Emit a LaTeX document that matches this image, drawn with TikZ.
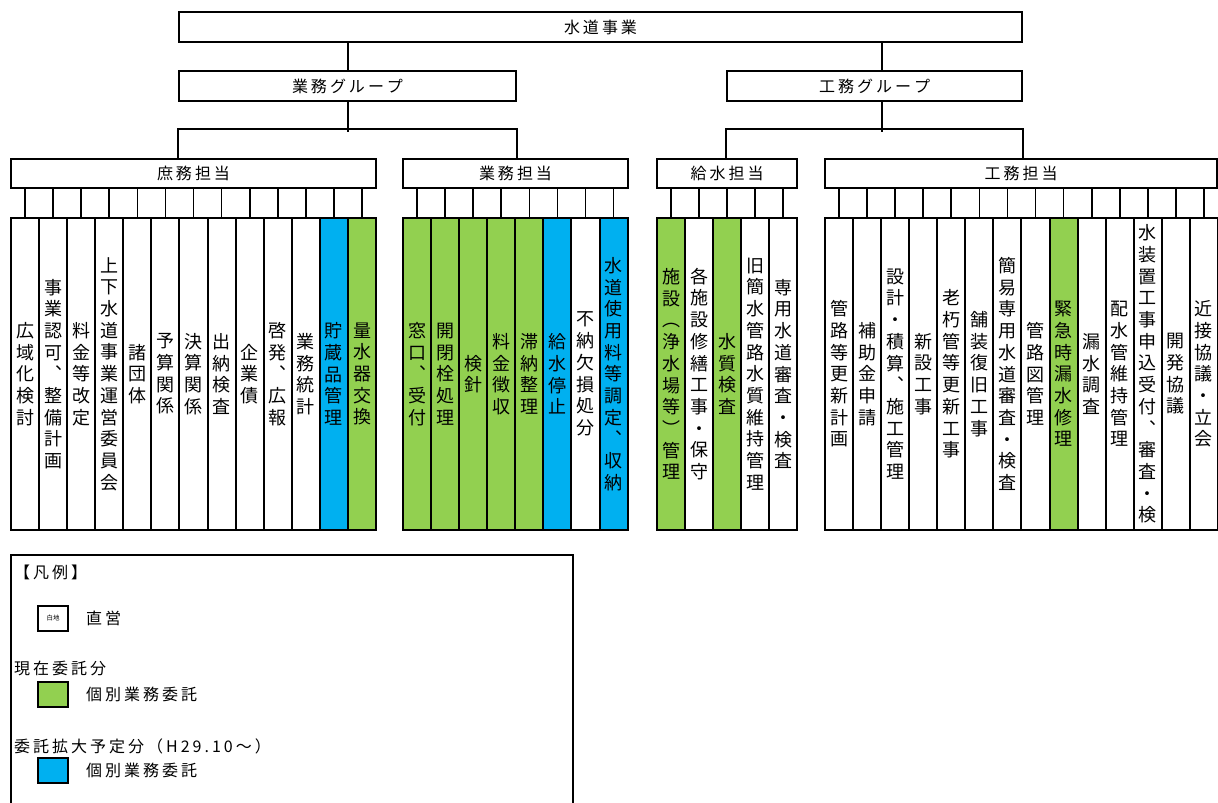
\documentclass[tikz,border=0pt]{standalone}
\usepackage{fontspec}
\setmainfont{Noto Sans CJK JP}
\newfontfamily\tatefont[RawFeature=+vert]{Noto Sans CJK JP}
\usetikzlibrary{positioning,calc}
\definecolor{itakugreen}{RGB}{146,208,80}
\definecolor{itakublue}{RGB}{0,176,240}
% pionowy tekst: jeden znak w wierszu
\def\tate#1{\tatefirst#1\relax}
\def\tatefirst#1{#1\tatenext}
\def\tatenext#1{\ifx#1\relax\else\\#1\expandafter\tatenext\fi}
% poziomy tekst z odstepami
\def\yoko#1{\yokofirst#1\relax}
\def\yokofirst#1{#1\yokonext}
\def\yokonext#1{\ifx#1\relax\else\kern3pt#1\expandafter\yokonext\fi}

\begin{document}
\begin{tikzpicture}[x=1pt,y=-1pt,line cap=rect,line join=miter,
  orgbox/.style={draw,line width=2.2pt,inner sep=0pt,font=\fontsize{16}{18}\selectfont},
  colbox/.style={draw,line width=2pt,inner sep=0pt,minimum width=28.08pt,
    minimum height=312pt,align=center,font=\tatefont\fontsize{18}{21.7}\selectfont},
  link/.style={line width=2pt},
  stub/.style={line width=1.7pt},
  legtext/.style={inner sep=0pt,font=\fontsize{16}{18}\selectfont},
  legkey/.style={draw,line width=2pt,inner sep=0pt,minimum width=30pt,minimum height=25pt}]
 \useasboundingbox (0,0) rectangle (1218,803);
 % Gora: jednostka i dwie grupy.
 \node[orgbox,minimum width=843pt,minimum height=30pt] (suido) at (600.5,27) {\yoko{水道事業}};
 \node[orgbox,minimum width=337pt,minimum height=30pt] (gyomugrp) at (347.5,86) {\yoko{業務グループ}};
 \node[orgbox,minimum width=295pt,minimum height=30pt] (komugrp) at (874.5,86) {\yoko{工務グループ}};
 \draw[link] (gyomugrp.north) -- (gyomugrp.north |- suido.south);
 \draw[link] ([xshift=7.5pt]komugrp.north) -- ([xshift=7.5pt]komugrp.north |- suido.south);
 % Cztery dzialy.
 \node[orgbox,minimum width=365pt,minimum height=29pt] (shomu) at (193.5,173.5) {\yoko{庶務担当}};
 \node[orgbox,minimum width=225pt,minimum height=29pt] (gyomu) at (515.5,173.5) {\yoko{業務担当}};
 \node[orgbox,minimum width=140pt,minimum height=29pt] (kyusui) at (727,173.5) {\yoko{給水担当}};
 \node[orgbox,minimum width=392pt,minimum height=29pt] (komu) at (1021,173.5) {\yoko{工務担当}};
 \draw[link] (gyomugrp.south) -- ++(0,29);
 \draw[link] (shomu.north -| gyomugrp.west) -- ++(0,-29) -| (gyomu.north -| gyomugrp.east);
 \draw[link] ([xshift=7.5pt]komugrp.south) -- ++(0,29);
 \draw[link] (kyusui.north -| komugrp.west) -- ++(0,-29) -| (komu.north -| komugrp.east);
 % Kolumny zadan.
 \foreach \txt/\clr [count=\i] in {広域化検討/white,事業認可、整備計画/white,料金等改定/white,
   上下水道事業運営委員会/white,諸団体/white,予算関係/white,決算関係/white,出納検査/white,
   企業債/white,啓発、広報/white,業務統計/white,貯蔵品管理/itakublue,量水器交換/itakugreen}{
  \node[colbox,fill=\clr] (sho\i) at ({11+28.08*(\i-0.5)},374) {\expandafter\tate\expandafter{\txt}};
  \draw[stub] (sho\i.north) -- (sho\i.north |- shomu.south);
 }
 \foreach \txt/\clr [count=\i] in {窓口、受付/itakugreen,開閉栓処理/itakugreen,検針/itakugreen,
   料金徴収/itakugreen,滞納整理/itakugreen,給水停止/itakublue,不納欠損処分/white,
   水道使用料等調定、収納/itakublue}{
  \node[colbox,fill=\clr] (gyo\i) at ({403+28.08*(\i-0.5)},374) {\expandafter\tate\expandafter{\txt}};
  \draw[stub] (gyo\i.north) -- (gyo\i.north |- gyomu.south);
 }
 \foreach \txt/\clr [count=\i] in {施設（浄水場等）管理/itakugreen,各施設修繕工事・保守/white,
   水質検査/itakugreen,旧簡水管路水質維持管理/white,専用水道審査・検査/white}{
  \node[colbox,fill=\clr] (kyu\i) at ({657+28*(\i-0.5)},374) {\expandafter\tate\expandafter{\txt}};
  \draw[stub] (kyu\i.north) -- (kyu\i.north |- kyusui.south);
 }
 \foreach \txt/\clr [count=\i] in {管路等更新計画/white,補助金申請/white,設計・積算、施工管理/white,
   新設工事/white,老朽管等更新工事/white,舗装復旧工事/white,簡易専用水道審査・検査/white,
   管路図管理/white,緊急時漏水修理/itakugreen,漏水調査/white,配水管維持管理/white,
   水装置工事申込受付、審査・検/white,開発協議/white,近接協議・立会/white}{
  \node[colbox,fill=\clr] (kom\i) at ({825+28.07*(\i-0.5)},374) {\expandafter\tate\expandafter{\txt}};
  \draw[stub] (kom\i.north) -- (kom\i.north |- komu.south);
 }
 % Legenda.
 \draw[line width=2pt] (11,803) |- (573,555) -- (573,803);
 \node[legtext,anchor=west] (hanrei) at (14,572) {\yoko{【凡例】}};
 \node[legkey] (keywhite) at (53,618) {\fontsize{6.5}{7}\selectfont 白地};
 \node[legtext,right=17pt of keywhite] (chokuei) {\yoko{直営}};
 \node[legtext,anchor=west] (genzai) at (14,668) {\yoko{現在委託分}};
 \node[legkey,fill=itakugreen] (keygreen) at (53,694.5) {};
 \node[legtext,right=17pt of keygreen] (kobetsu1) {\yoko{個別業務委託}};
 \node[legtext,anchor=west] (kakudai) at (14,746) {\yoko{委託拡大予定分（H29.10～）}};
 \node[legkey,fill=itakublue] (keyblue) at (53,770) {};
 \node[legtext,right=17pt of keyblue] (kobetsu2) {\yoko{個別業務委託}};
\end{tikzpicture}
\end{document}
